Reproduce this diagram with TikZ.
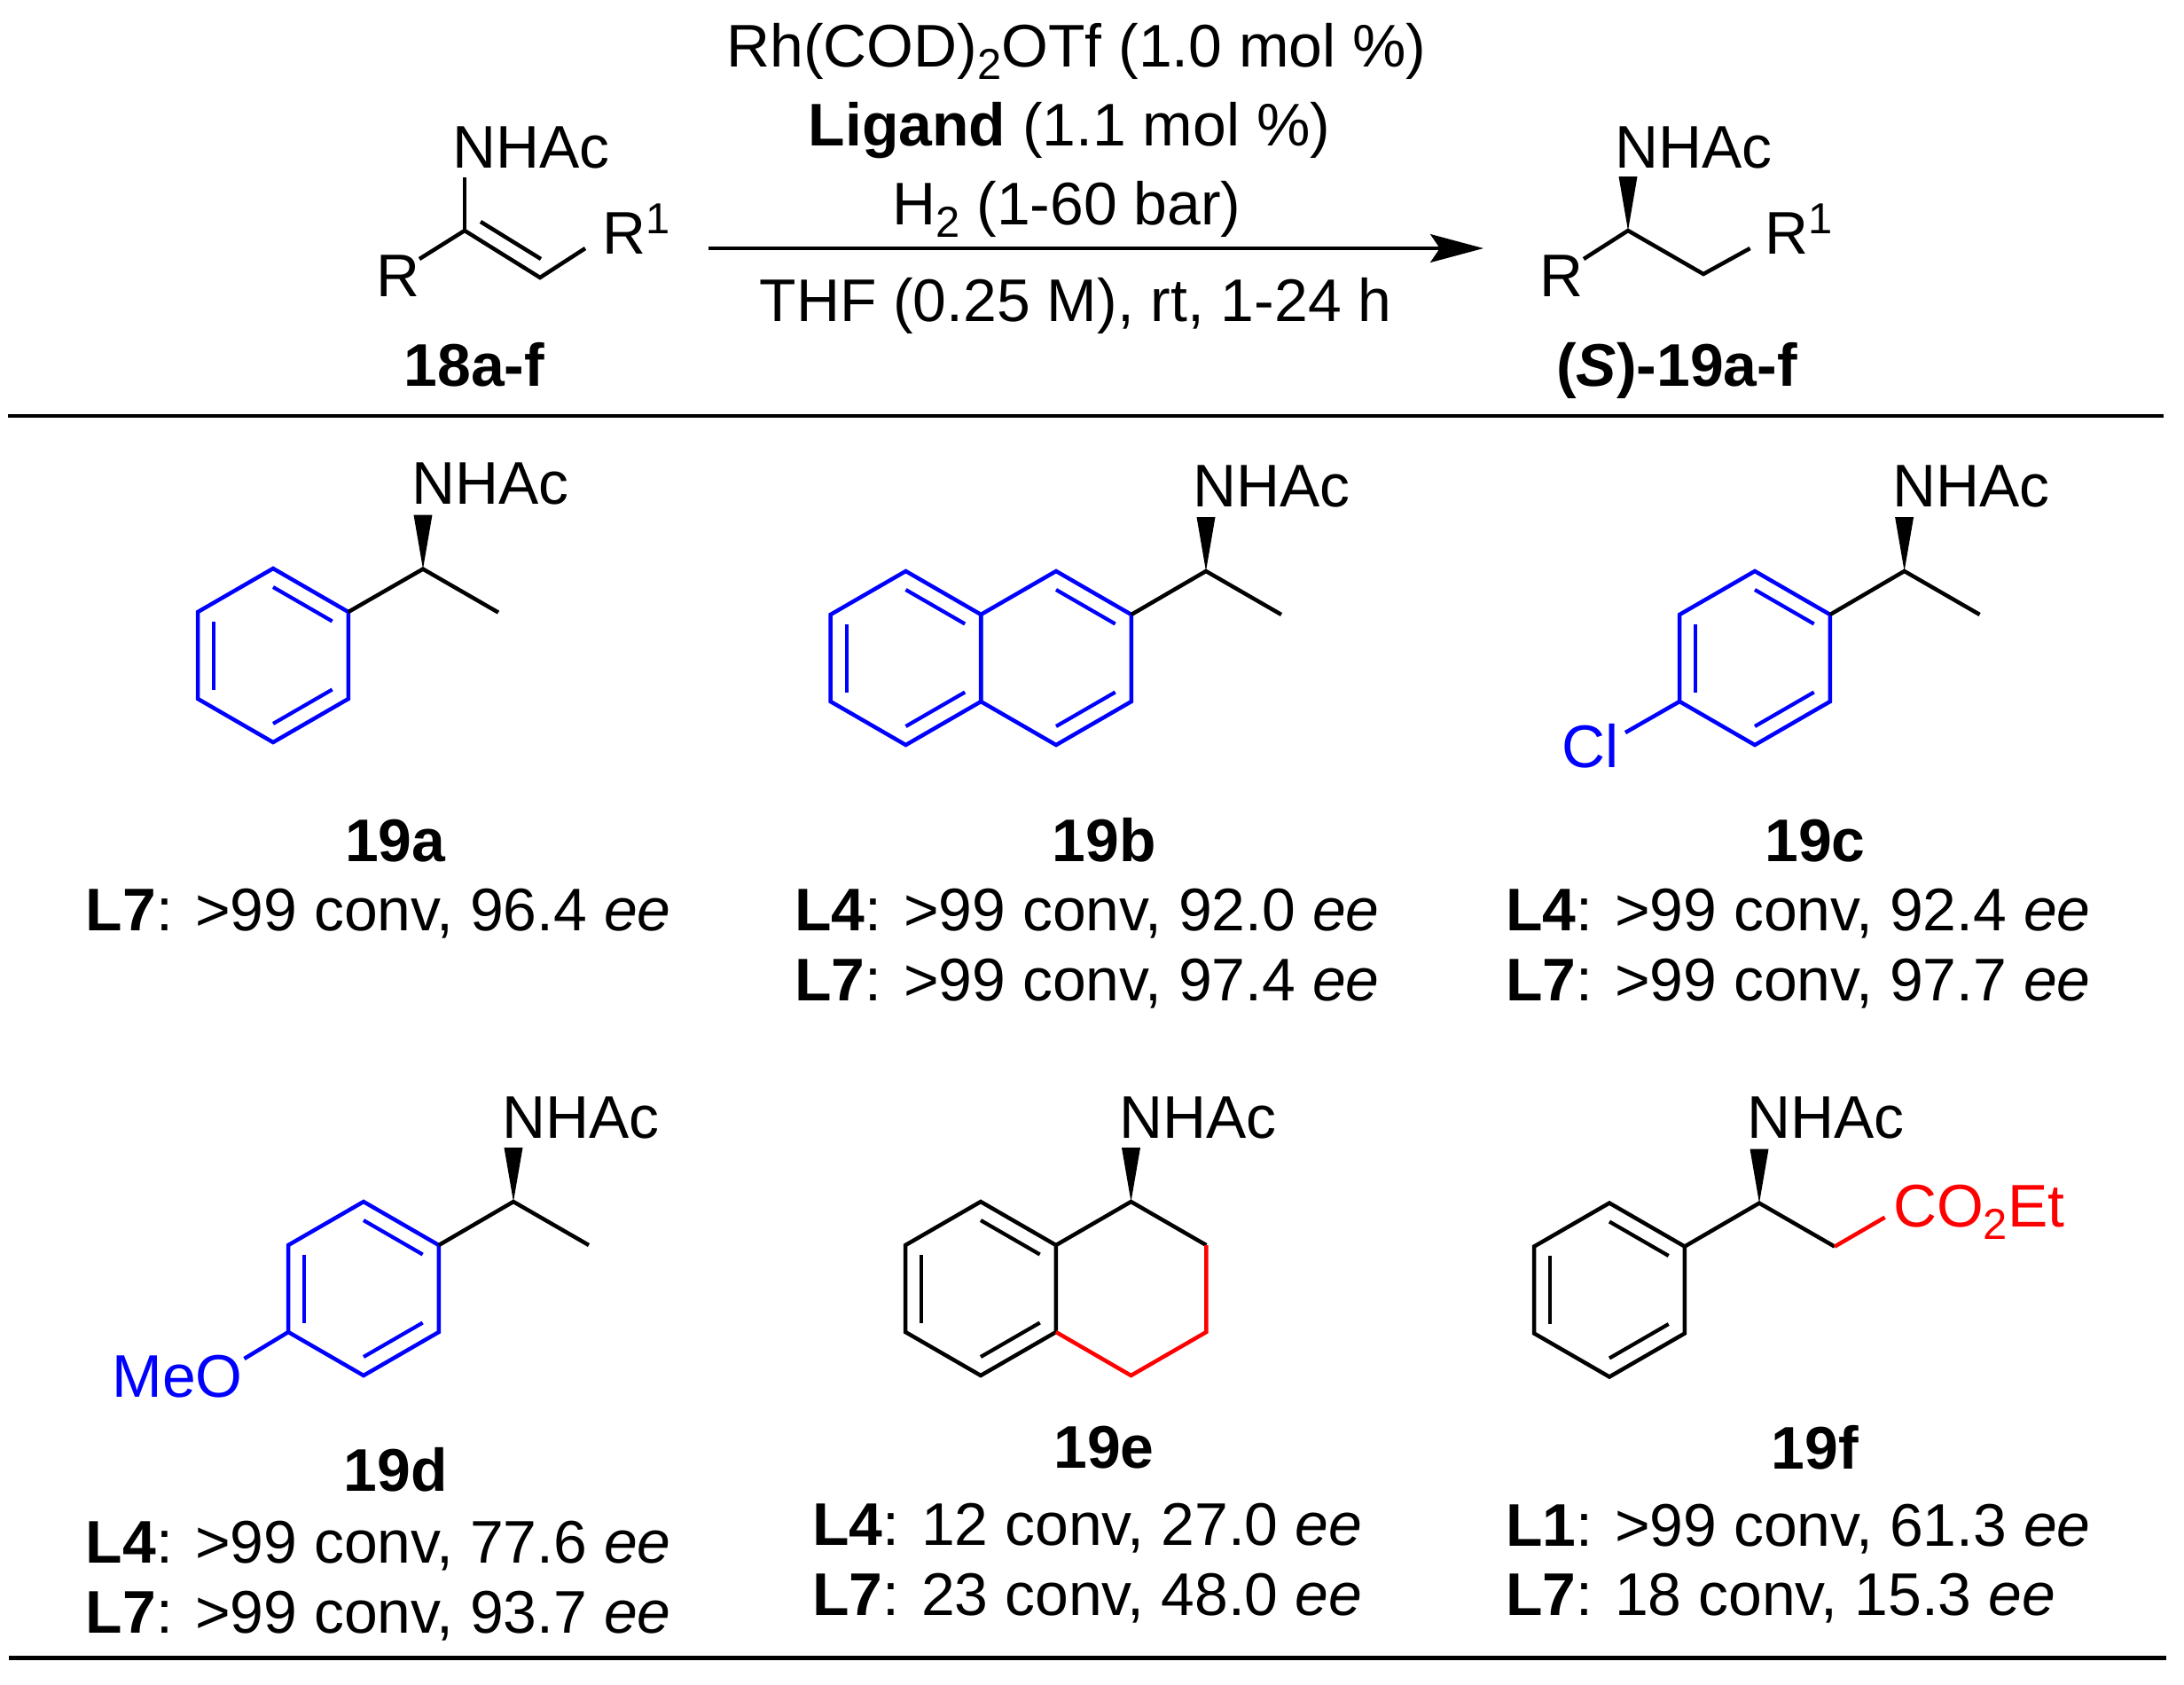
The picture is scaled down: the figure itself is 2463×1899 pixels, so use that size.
\documentclass[tikz,border=0pt]{standalone}
\usepackage{fontspec}
\setmainfont{Liberation Sans}
\usetikzlibrary{arrows.meta}

\tikzset{
  bond/.style={line width=1.28pt},
  inner/.style={line width=1.2pt},
  txt/.style={inner sep=0pt,outer sep=0pt,anchor=base,font=\fontsize{19.3}{23}\selectfont},
  lefttxt/.style={txt,anchor=base west},
}

% sub- and superscript of the chemical labels
\newcommand{\lowtxt}[1]{\raisebox{-4pt}{\fontsize{13.9}{15}\selectfont #1}}
\newcommand{\hightxt}[1]{\raisebox{6.5pt}{\fontsize{13.9}{15}\selectfont #1}}

% atoms of a six ring: name, centre x, centre y
\newcommand{\arene}[3]{
  \foreach \k/\ang in {1/-90,2/-30,3/30,4/90,5/150,6/210}{
    \path[shift={(#2,#3)}] (\ang:98) coordinate (#1\k) (\ang:77) coordinate (#1i\k);
  }
}
% stereocentre with its wedge: name, x, y
\newcommand{\stereo}[3]{
  \path[shift={(#2,#3)}] (0,0) coordinate (#1S) (85,49) coordinate (#1M)
    (-10.5,-61) coordinate (#1L) (10.5,-61) coordinate (#1R);
  \fill (#1S) -- (#1L) -- (#1R) -- cycle;
}

\begin{document}
\begin{tikzpicture}[x=0.01cm,y=-0.01cm]
\useasboundingbox (0,0) rectangle (2463,1899);

% scheme, substrate
\node[lefttxt] (subN) at (510,189) {NHAc};
\node[lefttxt] (subR) at (424,334) {R};
\node[lefttxt] (subRa) at (679,286) {R\hightxt{1}};
\coordinate (c1) at (524,260);
\coordinate (c2) at (609,313);
\draw[bond] (524,200) -- (c1);
\draw[bond] (473,292) -- (c1) -- (c2) -- (660,280);
\draw[bond] (542,250) -- (610,292);
\node[txt] (subL) at (535,435) {\textbf{18a-f}};

% conditions
\node[txt] (t1) at (1214,75) {Rh(COD)\lowtxt{2}OTf (1.0 mol \%)};
\node[txt] (t2) at (1206,164) {\textbf{Ligand} (1.1 mol \%)};
\node[txt] (t3) at (1203,253) {H\lowtxt{2} (1-60 bar)};
\node[txt] (t4) at (1213,362) {THF (0.25 M), rt, 1-24 h};
\coordinate (arrA) at (799,280);
\coordinate (arrB) at (1673,280);
\draw[bond,-{Stealth[length=17pt,width=9pt,inset=3pt]}] (arrA) -- (arrB);

% scheme, product
\node[lefttxt] (proN) at (1821.5,189) {NHAc};
\node[lefttxt] (proR) at (1736,334) {R};
\node[lefttxt] (proRa) at (1990,286) {R\hightxt{1}};
\stereo{p}{1836}{260}
\draw[bond] (1786,292) -- (pS) -- (pM) -- (1973.6,280);
\node[txt] (proL) at (1891,435) {\textbf{(\textit{S})-19a-f}};

\draw[bond] (9,469) -- (2440,469);
\draw[bond] (10,1869.5) -- (2443,1869.5);

% 19a
\arene{a}{308}{739}
\stereo{a}{477}{641.6}
\draw[bond,blue] (a1) -- (a2) -- (a3) -- (a4) -- (a5) -- (a6) -- cycle;
\foreach \i/\j in {1/2,3/4,5/6} \draw[inner,blue] (ai\i) -- (ai\j);
\draw[bond] (a2) -- (aS) -- (aM);
\node[lefttxt] (nhA) at (464,568) {NHAc};
\node[txt] (labA) at (446,971) {\textbf{19a}};
\node[lefttxt] (resA) at (97,1049) {\textbf{L7}: >99 conv, 96.4 \textit{ee}};

% 19b
\arene{b}{1021.5}{742}
\arene{n}{1191}{742}
\stereo{n}{1360}{644}
\draw[bond,blue] (b1) -- (b2) -- (b3) -- (b4) -- (b5) -- (b6) -- cycle;
\draw[bond,blue] (n1) -- (n2) -- (n3) -- (n4) -- (n5) -- (n6) -- cycle;
\foreach \i/\j in {1/2,3/4,5/6} \draw[inner,blue] (bi\i) -- (bi\j);
\foreach \i/\j in {1/2,3/4} \draw[inner,blue] (ni\i) -- (ni\j);
\draw[bond] (n2) -- (nS) -- (nM);
\node[lefttxt] (nhB) at (1345,571.5) {NHAc};
\node[txt] (labB) at (1245,971) {\textbf{19b}};
\node[lefttxt] (resB) at (896,1049) {\textbf{L4}: >99 conv, 92.0 \textit{ee}};
\node[lefttxt] (resBb) at (896,1128) {\textbf{L7}: >99 conv, 97.4 \textit{ee}};

% 19c
\arene{c}{1979}{742}
\stereo{c}{2147.6}{644}
\draw[bond,blue] (c1) -- (c2) -- (c3) -- (c4) -- (c5) -- (c6) -- cycle;
\foreach \i/\j in {1/2,3/4,5/6} \draw[inner,blue] (ci\i) -- (ci\j);
\draw[bond] (c2) -- (cS) -- (cM);
\node[lefttxt,text=blue] (cl) at (1761,865) {Cl};
\coordinate (clB) at (1833,826);
\draw[bond,blue] (c5) -- (clB);
\node[lefttxt] (nhC) at (2134,571.5) {NHAc};
\node[txt] (labC) at (2047,971) {\textbf{19c}};
\node[lefttxt] (resC) at (1698,1049) {\textbf{L4}: >99 conv, 92.4 \textit{ee}};
\node[lefttxt] (resCb) at (1698,1128) {\textbf{L7}: >99 conv, 97.7 \textit{ee}};

% 19d
\arene{d}{410}{1453}
\stereo{d}{579}{1355}
\draw[bond,blue] (d1) -- (d2) -- (d3) -- (d4) -- (d5) -- (d6) -- cycle;
\foreach \i/\j in {1/2,3/4,5/6} \draw[inner,blue] (di\i) -- (di\j);
\draw[bond] (d2) -- (dS) -- (dM);
\node[lefttxt,text=blue] (meo) at (126.5,1575) {MeO};
\coordinate (meoB) at (275.5,1532);
\draw[bond,blue] (d5) -- (meoB);
\node[lefttxt] (nhD) at (566,1283) {NHAc};
\node[txt] (labD) at (446,1681) {\textbf{19d}};
\node[lefttxt] (resD) at (97,1762) {\textbf{L4}: >99 conv, 77.6 \textit{ee}};
\node[lefttxt] (resDb) at (97,1841) {\textbf{L7}: >99 conv, 93.7 \textit{ee}};

% 19e
\arene{e}{1106}{1453}
\arene{h}{1275.5}{1453}
\stereo{e}{1275.5}{1355}
\draw[bond] (e3) -- (e4) -- (e5) -- (e6) -- (e1) -- (e2) -- cycle;
\foreach \i/\j in {1/2,3/4,5/6} \draw[inner] (ei\i) -- (ei\j);
\draw[bond] (e2) -- (eS) -- (h2);
\draw[bond,red] (h2) -- (h3) -- (h4) -- (e3);
\node[lefttxt] (nhE) at (1262,1283) {NHAc};
\node[txt] (labE) at (1245,1655) {\textbf{19e}};
\node[lefttxt] (resE) at (916,1742) {\textbf{L4}: 12 conv, 27.0 \textit{ee}};
\node[lefttxt] (resEb) at (916,1821) {\textbf{L7}: 23 conv, 48.0 \textit{ee}};

% 19f
\arene{f}{1815}{1454.5}
\stereo{f}{1984}{1356.6}
\draw[bond] (f1) -- (f2) -- (f3) -- (f4) -- (f5) -- (f6) -- cycle;
\foreach \i/\j in {1/2,3/4,5/6} \draw[inner] (fi\i) -- (fi\j);
\draw[bond] (f2) -- (fS) -- (fM);
\node[lefttxt,text=red] (est) at (2135,1383) {CO\lowtxt{2}Et};
\coordinate (estB) at (2125.6,1372.7);
\draw[bond,red] (fM) -- (estB);
\node[lefttxt] (nhF) at (1970,1283.7) {NHAc};
\node[txt] (labF) at (2047,1656) {\textbf{19f}};
\node[lefttxt] (resF) at (1698,1743) {\textbf{L1}: >99 conv, 61.3 \textit{ee}};
\node[lefttxt] (resFb) at (1698,1821) {\textbf{L7}: 18 conv, 15.3 \textit{ee}};
\end{tikzpicture}
\end{document}
